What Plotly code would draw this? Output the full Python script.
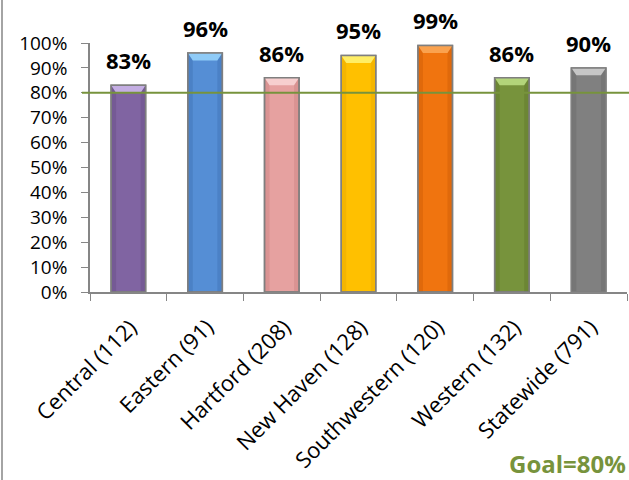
import plotly.graph_objects as go

# Regional results vs. the 80% goal
regions = ["Central (112)", "Eastern (91)", "Hartford (208)", "New Haven (128)",
           "Southwestern (120)", "Western (132)", "Statewide (791)"]
rates = [0.83, 0.96, 0.86, 0.95, 0.99, 0.86, 0.90]
bar_colors = ["#8064A2", "#558ED5", "#E6A1A0", "#FFC000", "#F0740F", "#77933C", "#808080"]
cap_colors = ["#C4AEE3", "#8FCBF7", "#F7CFCF", "#FFEE66", "#FAA24F", "#B3D57A", "#C6C6C6"]
edge_colors = ["#634C82", "#3C6EB0", "#C77F7E", "#E3A600", "#C85A05", "#5C7429", "#666666"]
goal = 0.80
goal_label = "Goal=80%"

W, H = 629, 480
ML, MR, MT, MB = 90, 2, 43, 188
plot_w = W - ML - MR
plot_h = H - MT - MB

font_family = "Open Sans, Lato, sans-serif"
bar_w = 0.45
bevel_x = 0.065  # width of the side bevel, in category units
bevel_y = 0.03   # height of the top bevel, in axis units

fig = go.Figure()
fig.add_trace(go.Bar(
    x=list(range(len(regions))),
    y=rates,
    width=bar_w,
    marker=dict(color=bar_colors, line=dict(color="#7F7F7F", width=1.5)),
    hoverinfo="skip",
))

# bevel shading on each bar: darker sides, lighter top cap
for i, (v, cap, edge) in enumerate(zip(rates, cap_colors, edge_colors)):
    x0, x1 = i - bar_w / 2, i + bar_w / 2
    fig.add_shape(type="rect", xref="x", yref="y",
                  x0=x0, x1=x0 + bevel_x, y0=0, y1=v,
                  fillcolor=edge, opacity=0.4, line=dict(width=0))
    fig.add_shape(type="rect", xref="x", yref="y",
                  x0=x1 - bevel_x, x1=x1, y0=0, y1=v,
                  fillcolor=edge, opacity=0.4, line=dict(width=0))
    fig.add_shape(type="path", xref="x", yref="y",
                  path=(f"M {x0},{v} L {x1},{v} L {x1 - bevel_x},{v - bevel_y} "
                        f"L {x0 + bevel_x},{v - bevel_y} Z"),
                  fillcolor=cap, line=dict(width=0))
    fig.add_shape(type="rect", xref="x", yref="y",
                  x0=x0, x1=x1, y0=0, y1=v,
                  fillcolor="rgba(0,0,0,0)", line=dict(color="#7F7F7F", width=1.5))

# value labels above each bar
for i, v in enumerate(rates):
    fig.add_annotation(
        x=i, y=v, text=f"{round(v * 100)}%",
        showarrow=False, yanchor="bottom", yshift=8,
        font=dict(family=font_family, size=22, color="#000000", weight="bold"),
    )

# slanted category labels under the axis
for i, name in enumerate(regions):
    fig.add_annotation(
        x=i, y=0, xref="x", yref="y", text=name, textangle=-45,
        showarrow=False, xanchor="right", yanchor="top",
        xshift=17, yshift=-17,
        font=dict(family=font_family, size=22, color="#000000"),
    )

# goal line across the plot
fig.add_shape(
    type="line", xref="paper", yref="y",
    x0=(82 - ML) / plot_w, x1=1.01, y0=goal, y1=goal,
    line=dict(color="#77933C", width=2),
)

# goal caption in the lower right corner
fig.add_annotation(
    xref="paper", yref="paper",
    x=(628 - ML) / plot_w, y=(MT + plot_h - 463) / plot_h,
    xanchor="right", yanchor="middle",
    text=goal_label, showarrow=False,
    font=dict(family=font_family, size=24, color="#77933C", weight="bold"),
)

# frame edge on the left side
fig.add_shape(
    type="line", xref="paper", yref="paper",
    x0=(2 - ML) / plot_w, x1=(2 - ML) / plot_w,
    y0=-MB / plot_h, y1=1 + MT / plot_h,
    line=dict(color="#868686", width=1.5),
)

fig.update_layout(
    width=W, height=H,
    margin=dict(l=ML, r=MR, t=MT, b=MB, pad=0),
    paper_bgcolor="white", plot_bgcolor="white",
    showlegend=False,
    font=dict(family=font_family, color="#000000"),
)
fig.update_xaxes(
    range=[-0.5, len(regions) - 0.5],
    tickmode="array", tickvals=[i - 0.5 for i in range(len(regions) + 1)],
    showticklabels=False,
    showgrid=False, showline=True, linecolor="#868686", linewidth=1.5,
    ticks="outside", ticklen=7, tickcolor="#868686",
)
fig.update_yaxes(
    range=[0, 1], dtick=0.1, tickformat=".0%",
    showgrid=False, showline=True, linecolor="#868686", linewidth=1.5,
    ticks="outside", ticklen=7, tickcolor="#868686",
    ticklabelstandoff=10,
    tickfont=dict(size=19, family=font_family),
    zeroline=False,
)

fig.write_html("out.html")
